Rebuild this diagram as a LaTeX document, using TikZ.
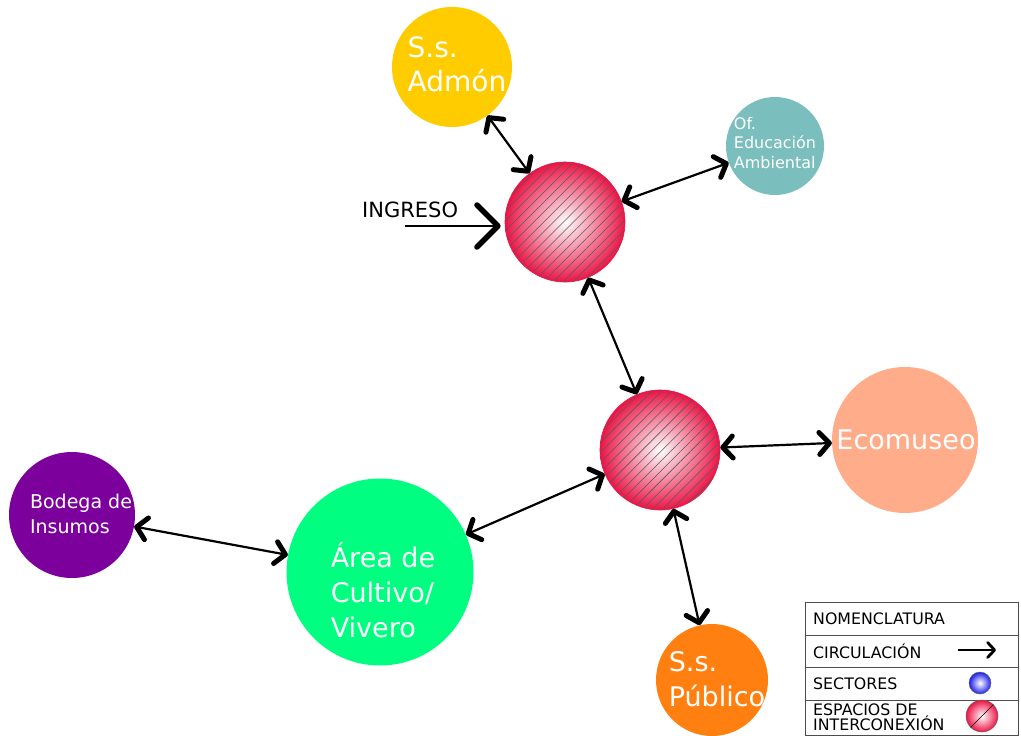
\documentclass[tikz,border=0pt]{standalone}
\usepackage{fontspec}
\setmainfont{DejaVu Sans}
\usetikzlibrary{arrows.meta,patterns.meta,shadings}
\definecolor{hubred}{RGB}{236,20,70}
\definecolor{admon}{RGB}{255,204,0}
\definecolor{educ}{RGB}{122,190,190}
\definecolor{ecomus}{RGB}{255,172,138}
\definecolor{cultivo}{RGB}{0,255,128}
\definecolor{bodega}{RGB}{124,0,156}
\definecolor{publico}{RGB}{255,128,16}
\definecolor{legblue}{RGB}{30,30,235}
\tikzset{
  x=1pt,y=-1pt,
  sector/.style={circle,inner sep=0pt},
  stext/.style 2 args={inner sep=0pt,text=white,align=left,font=\fontsize{#1}{#2}\selectfont},
  hub/.style={circle,minimum size=120pt,inner sep=0pt,draw=hubred,line width=0.6pt,
     inner color=white,outer color=hubred,
     postaction={pattern={Lines[angle=45,distance=7pt,line width=0.55pt]},pattern color=black!65}},
  barbtip/.tip={Straight Barb[length=10pt,width=22pt,line width=5pt 0,round]},
  circ/.style={line width=2.2pt,barbtip-barbtip},
  legtext/.style={anchor=west,font=\fontsize{15.8}{16}\selectfont,inner sep=0pt,align=left}
}
\begin{document}
\begin{tikzpicture}
\useasboundingbox (0,0) rectangle (1021,736);
% hubs
\node[hub] (h1) at (565,222) {};
\node[hub] (h2) at (660,450) {};
% sectors
\node[sector,fill=admon,minimum size=120pt] (adm) at (452,67) {};
\node[stext={28}{34}] (admt) at (457,64) {S.s.\\Admón};
\node[sector,fill=educ,minimum size=98pt] (edu) at (775,146) {};
\node[stext={16}{19.5}] (edut) at (775,143) {Of.\\Educación\\Ambiental};
\node[sector,fill=ecomus,minimum size=146pt] (eco) at (905,440) {};
\node[stext={27}{30}] (ecot) at (906,440) {Ecomuseo};
\node[sector,fill=cultivo,minimum size=187pt] (cul) at (380,572) {};
\node[stext={27}{35}] (cult) at (383,590) {Área de\\Cultivo/\\Vivero};
\node[sector,fill=bodega,minimum size=126pt] (bod) at (72,515) {};
\node[stext={19}{25}] (bodt) at (81,514) {Bodega de\\Insumos};
\node[sector,fill=publico,minimum size=112pt] (pub) at (712,680) {};
\node[stext={27}{35}] (pubt) at (717,679) {S.s.\\Público};
% connectors
\draw[circ] (adm) -- (h1);
\draw[circ] (h1) -- (edu);
\draw[circ] (h1) -- (h2);
\draw[circ] (h2) -- (eco);
\draw[circ] (h2) -- (cul);
\draw[circ] (cul) -- (bod);
\draw[circ] (h2) -- (pub);
% ingreso
\node[font=\fontsize{21}{22}\selectfont,anchor=south west,inner sep=0pt] (ing) at (362,218) {INGRESO};
\coordinate (ingstart) at (405,226);
\draw[line width=2.2pt,-{Straight Barb[length=21pt,width=42pt,line width=5.5pt 0,round]},shorten >=4pt] (ingstart) -- (ingstart -| h1.west);
% legend
\draw[line width=0.6pt,black!70] (805,602) rectangle (1018,735);
\draw[line width=0.6pt,black!70] (805,635) -- (1018,635) (805,667) -- (1018,667) (805,700) -- (1018,700);
\node[legtext] (l1) at (813,619) {NOMENCLATURA};
\node[legtext] (l2) at (813,651) {CIRCULACIÓN};
\node[legtext] (l3) at (813,684) {SECTORES};
\node[legtext,font=\fontsize{15.8}{15}\selectfont] (l4) at (813,717) {ESPACIOS DE\\INTERCONEXIÓN};
\coordinate (la) at (958,650);
\coordinate (lb) at (996,650);
\draw[line width=1.8pt,-{Straight Barb[length=7pt,width=15pt,line width=2.8pt 0,round]}] (la) -- (lb);
\node[circle,minimum size=22pt,inner sep=0pt,draw=black!60,line width=0.5pt,inner color=white,outer color=legblue] (lblue) at (980,683) {};
\node[circle,minimum size=32pt,inner sep=0pt,draw=black!60,line width=0.5pt,inner color=white,outer color=hubred] (lred) at (982,716) {};
\draw[line width=0.6pt] (lred.south west) -- (lred.north east);
\end{tikzpicture}
\end{document}
